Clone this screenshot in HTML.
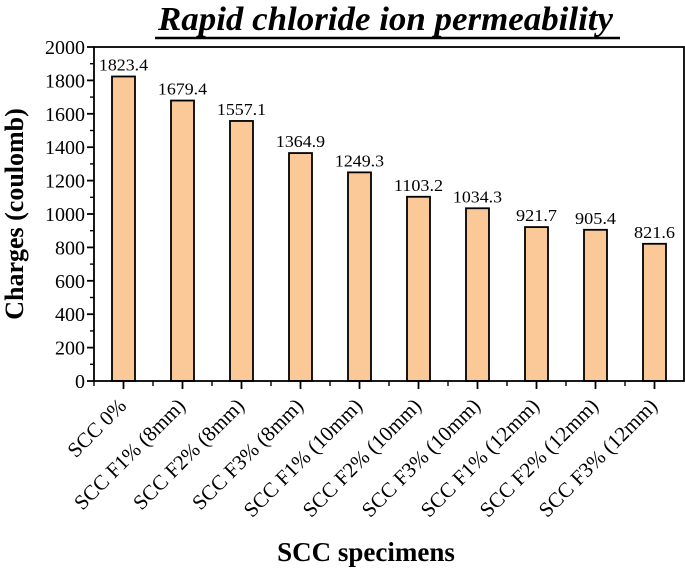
<!DOCTYPE html>
<html><head><meta charset="utf-8"><style>
body{margin:0;background:#fff;}
svg{display:block;font-family:"Liberation Serif",serif;}
</style></head><body>
<svg id="chart" width="685" height="571" viewBox="0 0 685 571"></svg>
<script>
const categories=["SCC 0%","SCC F1% (8mm)","SCC F2% (8mm)","SCC F3% (8mm)","SCC F1% (10mm)","SCC F2% (10mm)","SCC F3% (10mm)","SCC F1% (12mm)","SCC F2% (12mm)","SCC F3% (12mm)"];
const values=[1823.4,1679.4,1557.1,1364.9,1249.3,1103.2,1034.3,921.7,905.4,821.6];
const valueLabels=["1823.4","1679.4","1557.1","1364.9","1249.3","1103.2","1034.3","921.7","905.4","821.6"];
const yTicks=[0,200,400,600,800,1000,1200,1400,1600,1800,2000];

const svg=document.getElementById('chart');
const NS='http://www.w3.org/2000/svg';
const L=94,R=684,T=47,B=381,YMAX=2000;
const slot=(R-L)/categories.length;
const x=i=>L+slot*(i+0.5);
const y=v=>B-(v/YMAX)*(B-T);
function mk(tag,attrs,text){const e=document.createElementNS(NS,tag);for(const k in attrs)e.setAttribute(k,attrs[k]);if(text!==undefined)e.textContent=text;svg.appendChild(e);return e;}

let t=mk('text',{x:158,y:30,'font-size':34,'font-weight':'bold','font-style':'italic',textLength:455,lengthAdjust:'spacingAndGlyphs'},'Rapid chloride ion permeability');


let u=mk('line',{x1:155,x2:620,y1:38,y2:38,stroke:'#000','stroke-width':2.5});



values.forEach((v,i)=>{
  const b=mk('rect',{x:x(i)-11.5,y:y(v),width:23,height:B-y(v),fill:'#fbc898',stroke:'#000','stroke-width':1.8});
  
  
  const lb=mk('text',{x:x(i),y:y(v)-6,'text-anchor':'middle','font-size':17,textLength:valueLabels[i].length*8.2,lengthAdjust:'spacingAndGlyphs'},valueLabels[i]);
  
  
});

let f=mk('rect',{x:L,y:T,width:R-L,height:B-T,fill:'none',stroke:'#000','stroke-width':1.8});



yTicks.forEach((v,i)=>{
  mk('line',{x1:L-7,x2:L,y1:y(v),y2:y(v),stroke:'#000','stroke-width':1.8});
  if(i<yTicks.length-1) mk('line',{x1:L-4,x2:L,y1:y(v+100),y2:y(v+100),stroke:'#000','stroke-width':1.4});
  const tl=mk('text',{x:L-9,y:y(v)+7,'text-anchor':'end','font-size':20},String(v));
  
  
});

categories.forEach((c,i)=>{
  mk('line',{x1:x(i),x2:x(i),y1:B,y2:B+8,stroke:'#000','stroke-width':1.8});
  mk('line',{x1:L+slot*i,x2:L+slot*i,y1:B,y2:B+5,stroke:'#000','stroke-width':1.4});
  const cx=x(i)+4,cy=B+26;
  const tl=mk('text',{x:cx,y:cy,'text-anchor':'end','font-size':21,transform:`rotate(-45 ${cx} ${cy})`},c);
  
  
});

let yt=mk('text',{x:0,y:0,'text-anchor':'middle','font-size':26,'font-weight':'bold',transform:'translate(23 214) rotate(-90)'},'Charges (coulomb)');


let xt=mk('text',{x:366,y:561,'text-anchor':'middle','font-size':27,'font-weight':'bold'},'SCC specimens');


</script>
</body></html>
